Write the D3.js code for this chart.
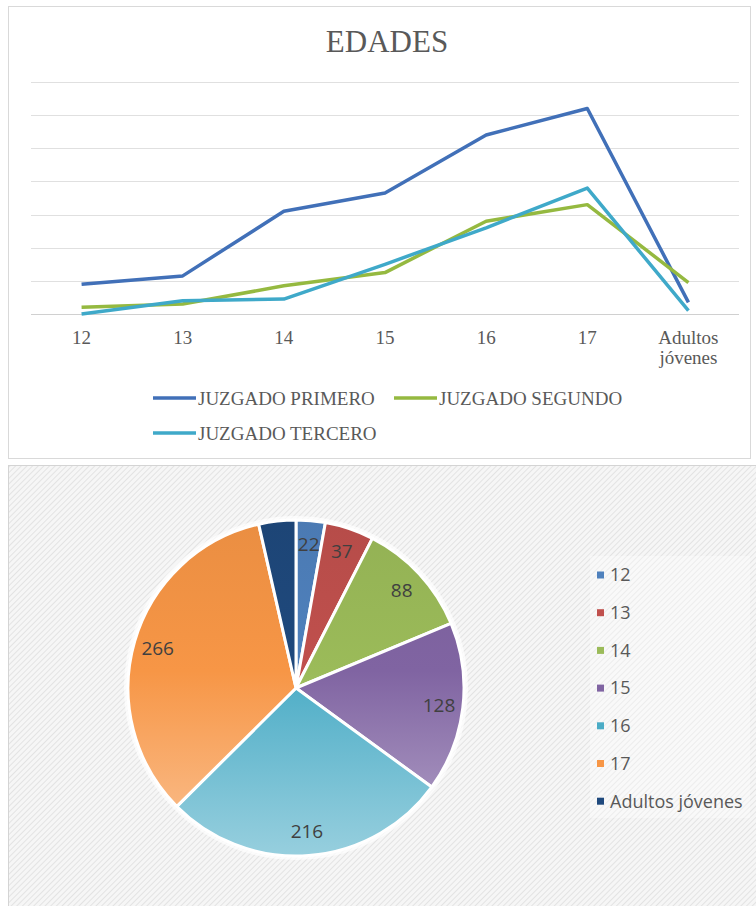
<!DOCTYPE html>
<html>
<head>
<meta charset="utf-8">
<script src="https://cdn.jsdelivr.net/npm/d3@7"></script>
<style>
  html, body { margin: 0; padding: 0; background: #ffffff; }
  svg { display: block; }
</style>
</head>
<body>
<div id="chart"></div>
<script>
// categories (ages)
const ages = ["12", "13", "14", "15", "16", "17", "Adultos jóvenes"];

// line chart series, one array per court
const juzgadoPrimero = [18, 23, 62, 73, 108, 124, 7];
const juzgadoSegundo = [4, 6, 17, 25, 56, 66, 19];
const juzgadoTercero = [0, 8, 9, 30, 52, 76, 2];
const seriesNames = ["JUZGADO PRIMERO", "JUZGADO SEGUNDO", "JUZGADO TERCERO"];
const seriesColors = ["#4170b8", "#95b940", "#3fa9c9"];
const yTicks = [0, 20, 40, 60, 80, 100, 120, 140];

// pie totals per age
const pieValues = [22, 37, 88, 128, 216, 266, 28];
const pieColors = ["#4f81bd", "#c0504d", "#9bbb59", "#8064a2", "#4bacc6", "#f79646", "#1f497d"];
const pieShowLabel = [true, true, true, true, true, true, false];

const W = 756, H = 906;

const svg = d3
  .select("#chart")
  .append("svg")
  .attr("width", W)
  .attr("height", H);

const defs = svg.append("defs");

// ---------- top panel: line chart ----------
svg
  .append("rect")
  .attr("x", 8.5)
  .attr("y", 6.5)
  .attr("width", 742)
  .attr("height", 452)
  .attr("fill", "#ffffff")
  .attr("stroke", "#d9d9d9");

svg
  .append("text")
  .attr("x", 387)
  .attr("y", 52)
  .attr("text-anchor", "middle")
  .attr("font-family", "'Liberation Serif', serif")
  .attr("font-size", 31)
  .attr("fill", "#595959")
  .text("EDADES");

const x = d3.scaleBand().domain(ages).range([31, 739]);
const y = d3.scaleLinear().domain([0, 140]).range([314, 82]);

// gridlines
svg
  .append("g")
  .selectAll("line")
  .data(yTicks)
  .join("line")
  .attr("x1", 31)
  .attr("x2", 739)
  .attr("y1", (d) => Math.round(y(d)) + 0.5)
  .attr("y2", (d) => Math.round(y(d)) + 0.5)
  .attr("stroke", (d) => (d === 0 ? "#d0d0d0" : "#e0e0e0"))
  .attr("stroke-width", 1);

// category labels
const xLabels = svg
  .append("g")
  .attr("font-family", "'Liberation Serif', serif")
  .attr("font-size", 19)
  .attr("fill", "#595959")
  .attr("text-anchor", "middle")
  .selectAll("text")
  .data(ages)
  .join("text")
  .attr("x", (d) => x(d) + x.bandwidth() / 2)
  .attr("y", 344);

xLabels.each(function (d) {
  const words = d.split(" ");
  d3.select(this)
    .selectAll("tspan")
    .data(words)
    .join("tspan")
    .attr("x", x(d) + x.bandwidth() / 2)
    .attr("dy", (w, i) => (i === 0 ? 0 : 20))
    .text((w) => w);
});

// lines
const line = d3
  .line()
  .x((d, i) => x(ages[i]) + x.bandwidth() / 2)
  .y((d) => y(d));

svg
  .append("g")
  .attr("fill", "none")
  .attr("stroke-width", 3.5)
  .attr("stroke-linejoin", "round")
  .selectAll("path")
  .data([juzgadoPrimero, juzgadoSegundo, juzgadoTercero])
  .join("path")
  .attr("stroke", (d, i) => seriesColors[i])
  .attr("d", line);

// legend
const legendPos = [
  { lx: 153, ly: 398 },
  { lx: 394, ly: 398 },
  { lx: 153, ly: 433 },
];

const legend = svg
  .append("g")
  .selectAll("g")
  .data(seriesNames)
  .join("g")
  .attr("transform", (d, i) => `translate(${legendPos[i].lx},${legendPos[i].ly})`);

legend
  .append("line")
  .attr("x1", 0)
  .attr("x2", 43)
  .attr("stroke", (d, i) => seriesColors[i])
  .attr("stroke-width", 3.5);

legend
  .append("text")
  .attr("x", 45)
  .attr("dy", "0.35em")
  .attr("font-family", "'Liberation Serif', serif")
  .attr("font-size", 19)
  .attr("fill", "#595959")
  .text((d) => d);

// ---------- bottom panel: pie chart ----------
const hatch = defs
  .append("pattern")
  .attr("id", "hatch")
  .attr("patternUnits", "userSpaceOnUse")
  .attr("width", 4)
  .attr("height", 4)
  .attr("patternTransform", "rotate(45)");

hatch.append("rect").attr("width", 4).attr("height", 4).attr("fill", "#f6f6f6");
hatch
  .append("line")
  .attr("x1", 0)
  .attr("x2", 0)
  .attr("y1", 0)
  .attr("y2", 4)
  .attr("stroke", "#dedede")
  .attr("stroke-width", 1.6);

svg
  .append("rect")
  .attr("x", 8.5)
  .attr("y", 465.5)
  .attr("width", 760)
  .attr("height", 460)
  .attr("fill", "url(#hatch)")
  .attr("stroke", "#d4d4d4");

const cx = 296, cy = 688, R = 168;

// vertical gradient per slice (in the pie group's own coordinates):
// base colour at top, lighter towards the bottom
pieColors.forEach(function (c, i) {
  const g = defs
    .append("linearGradient")
    .attr("id", "slice" + i)
    .attr("gradientUnits", "userSpaceOnUse")
    .attr("x1", 0)
    .attr("x2", 0)
    .attr("y1", -R)
    .attr("y2", R);
  g.append("stop")
    .attr("offset", "0%")
    .attr("stop-color", d3.color(c).darker(0.15));
  g.append("stop")
    .attr("offset", "45%")
    .attr("stop-color", c);
  g.append("stop")
    .attr("offset", "100%")
    .attr("stop-color", d3.interpolateRgb(c, "#ffffff")(0.42));
});

const pie = d3.pie().sort(null).value((d) => d);
const arcs = pie(pieValues);
const arc = d3.arc().innerRadius(0).outerRadius(R);
const labelArc = d3.arc().innerRadius(144).outerRadius(144);

const pieG = svg.append("g").attr("transform", `translate(${cx},${cy})`);

pieG
  .append("circle")
  .attr("r", R + 2)
  .attr("fill", "none")
  .attr("stroke", "#ffffff")
  .attr("stroke-opacity", 0.7)
  .attr("stroke-width", 4);

pieG
  .selectAll("path")
  .data(arcs)
  .join("path")
  .attr("d", arc)
  .attr("fill", (d, i) => `url(#slice${i})`)
  .attr("stroke", "#ffffff")
  .attr("stroke-width", 3)
  .attr("stroke-linejoin", "round");

pieG
  .selectAll("text")
  .data(arcs.filter((d, i) => pieShowLabel[i]))
  .join("text")
  .attr("transform", (d) => `translate(${labelArc.centroid(d)})`)
  .attr("text-anchor", "middle")
  .attr("dy", "0.35em")
  .attr("font-family", "'Open Sans', sans-serif")
  .attr("font-size", 19)
  .attr("fill", "#404040")
  .text((d) => d.value);

// pie legend
svg
  .append("rect")
  .attr("x", 590)
  .attr("y", 556)
  .attr("width", 160)
  .attr("height", 262)
  .attr("fill", "#ffffff")
  .attr("opacity", 0.35);

const pieLegend = svg
  .append("g")
  .selectAll("g")
  .data(ages)
  .join("g")
  .attr("transform", (d, i) => `translate(597,${575 + i * 37.7})`);

pieLegend
  .append("rect")
  .attr("x", 0)
  .attr("y", -3.5)
  .attr("width", 7)
  .attr("height", 7)
  .attr("fill", (d, i) => pieColors[i]);

pieLegend
  .append("text")
  .attr("x", 13)
  .attr("dy", "0.35em")
  .attr("font-family", "'Open Sans', sans-serif")
  .attr("font-size", 18)
  .attr("fill", "#595959")
  .text((d) => d);
</script>
</body>
</html>
